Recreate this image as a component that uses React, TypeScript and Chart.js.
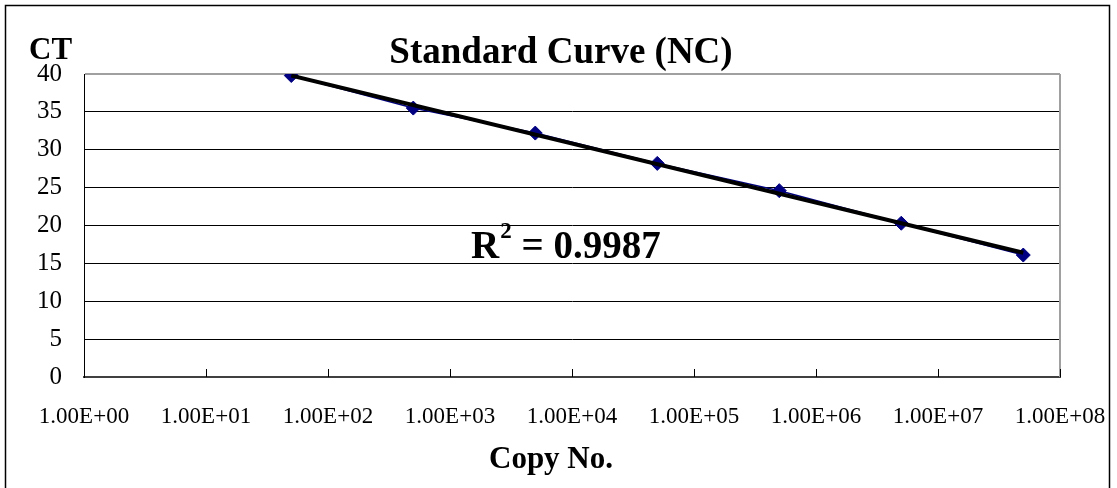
import React, { useEffect, useRef } from "react";
import { Chart, registerables } from "chart.js";

Chart.register(...registerables);

const TITLE = "Standard Curve (NC)";
const Y_TITLE = "CT";
const X_TITLE = "Copy No.";
const R2_VALUE = "0.9987";
const COPY_NUMBERS = [5e1, 5e2, 5e3, 5e4, 5e5, 5e6, 5e7];
const CT_VALUES = [39.8, 35.5, 32.2, 28.2, 24.6, 20.3, 16.1];
const X_TICKS = [1e0, 1e1, 1e2, 1e3, 1e4, 1e5, 1e6, 1e7, 1e8];
const Y_MIN = 0;
const Y_MAX = 40;
const Y_STEP = 5;

const FONT = "'Liberation Serif', 'Times New Roman', serif";

function fitLog(xs: number[], ys: number[]) {
  const lx = xs.map((x) => Math.log10(x));
  const n = lx.length;
  const mx = lx.reduce((a, b) => a + b, 0) / n;
  const my = ys.reduce((a, b) => a + b, 0) / n;
  let sxy = 0;
  let sxx = 0;
  for (let i = 0; i < n; i++) {
    sxy += (lx[i] - mx) * (ys[i] - my);
    sxx += (lx[i] - mx) * (lx[i] - mx);
  }
  const m = sxy / sxx;
  const b = my - m * mx;
  return (x: number) => m * Math.log10(x) + b;
}

function fmtSci(v: number) {
  const [mant, ex] = v.toExponential(2).split("e");
  const sign = ex[0];
  const digits = ex.slice(1).padStart(2, "0");
  return mant + "E" + sign + digits;
}

const decorPlugin = {
  id: "decor",
  beforeDraw(chart: any) {
    const ctx = chart.ctx;
    ctx.save();
    ctx.fillStyle = "#ffffff";
    ctx.fillRect(0, 0, chart.width, chart.height);
    ctx.restore();
  },
  afterDraw(chart: any) {
    const ctx = chart.ctx;
    const area = chart.chartArea;
    const xs = chart.scales.x;
    ctx.save();
    // plot area right border (gray)
    ctx.strokeStyle = "#a0a0a0";
    ctx.lineWidth = 2;
    ctx.beginPath();
    ctx.moveTo(area.right, area.top);
    ctx.lineTo(area.right, area.bottom);
    ctx.stroke();
    // inward x ticks
    ctx.strokeStyle = "#000";
    ctx.lineWidth = 1;
    for (const v of X_TICKS) {
      const px = Math.round(xs.getPixelForValue(v)) + 0.5;
      ctx.beginPath();
      ctx.moveTo(px, area.bottom);
      ctx.lineTo(px, area.bottom - 8);
      ctx.stroke();
    }
    // outer border
    ctx.strokeStyle = "#000";
    ctx.lineWidth = 1.5;
    ctx.beginPath();
    ctx.moveTo(5.5, chart.height + 2);
    ctx.lineTo(5.5, 5.5);
    ctx.lineTo(1109.5, 5.5);
    ctx.lineTo(1109.5, chart.height + 2);
    ctx.stroke();
    // texts
    ctx.fillStyle = "#000";
    ctx.textBaseline = "alphabetic";
    ctx.font = "bold 37px " + FONT;
    ctx.textAlign = "center";
    ctx.fillText(TITLE, 561, 63);
    ctx.font = "bold 31px " + FONT;
    ctx.textAlign = "left";
    ctx.fillText(Y_TITLE, 29, 59);
    ctx.textAlign = "center";
    ctx.fillText(X_TITLE, 551, 468);
    // R^2 label
    ctx.textAlign = "left";
    ctx.font = "bold 39px " + FONT;
    let x = 471;
    ctx.fillText("R", x, 258);
    x += ctx.measureText("R").width;
    ctx.font = "bold 23px " + FONT;
    ctx.fillText("2", x + 1, 238);
    x += ctx.measureText("2").width + 1;
    ctx.font = "bold 39px " + FONT;
    ctx.fillText(" = " + R2_VALUE, x, 258);
    ctx.restore();
  },
};

export default function App() {
  const ref = useRef<HTMLCanvasElement | null>(null);
  useEffect(() => {
    if (!ref.current) return;
    const trend = fitLog(COPY_NUMBERS, CT_VALUES);
    const first = COPY_NUMBERS[0];
    const last = COPY_NUMBERS[COPY_NUMBERS.length - 1];
    const chart = new Chart(ref.current, {
      type: "line",
      data: {
        datasets: [
          {
            label: "Trend",
            data: [
              { x: first, y: trend(first) },
              { x: last, y: trend(last) },
            ],
            borderColor: "#000000",
            borderWidth: 4,
            pointRadius: 0,
            fill: false,
          },
          {
            label: "CT",
            data: COPY_NUMBERS.map((x, i) => ({ x, y: CT_VALUES[i] })),
            borderColor: "#000080",
            borderWidth: 1.5,
            pointStyle: "rectRot",
            pointRadius: 7,
            pointBackgroundColor: "#000080",
            pointBorderColor: "#000080",
            pointBorderWidth: 1,
            fill: false,
          },
        ],
      },
      options: {
        animation: false,
        responsive: false,
        devicePixelRatio: 1,
        layout: { padding: { left: 0, top: 74, right: 57, bottom: 0 } },
        plugins: {
          legend: { display: false },
          tooltip: { enabled: false },
          title: { display: false },
        },
        scales: {
          x: {
            type: "logarithmic",
            min: X_TICKS[0],
            max: X_TICKS[X_TICKS.length - 1],
            afterBuildTicks: (scale: any) => {
              scale.ticks = X_TICKS.map((value) => ({ value }));
            },
            afterFit: (scale: any) => {
              scale.height = 111;
              scale.paddingLeft = 0;
              scale.paddingRight = 0;
            },
            grid: { display: true, drawOnChartArea: false, drawTicks: false },
            border: { display: true, color: "#404040", width: 2 },
            ticks: {
              autoSkip: false,
              maxRotation: 0,
              minRotation: 0,
              padding: 26,
              color: "#000",
              font: { family: FONT, size: 23 },
              callback: (v: any) => fmtSci(Number(v)),
            },
          },
          y: {
            type: "linear",
            min: Y_MIN,
            max: Y_MAX,
            afterFit: (scale: any) => {
              scale.width = 84;
              scale.paddingTop = 0;
              scale.paddingBottom = 0;
            },
            grid: {
              drawTicks: false,
              color: (c: any) => (c.tick && c.tick.value === Y_MAX ? "#a0a0a0" : "#000000"),
              lineWidth: (c: any) => (c.tick && c.tick.value === Y_MAX ? 2 : 1),
            },
            border: { display: true, color: "#000", width: 1 },
            ticks: {
              stepSize: Y_STEP,
              padding: 22,
              color: "#000",
              font: { family: FONT, size: 25 },
            },
          },
        },
      },
      plugins: [decorPlugin],
    } as any);
    return () => chart.destroy();
  }, []);
  return (
    <div style={{ position: "absolute", left: 0, top: 0, width: 1117, height: 488 }}>
      <canvas ref={ref} width={1117} height={488} style={{ display: "block" }} />
    </div>
  );
}
